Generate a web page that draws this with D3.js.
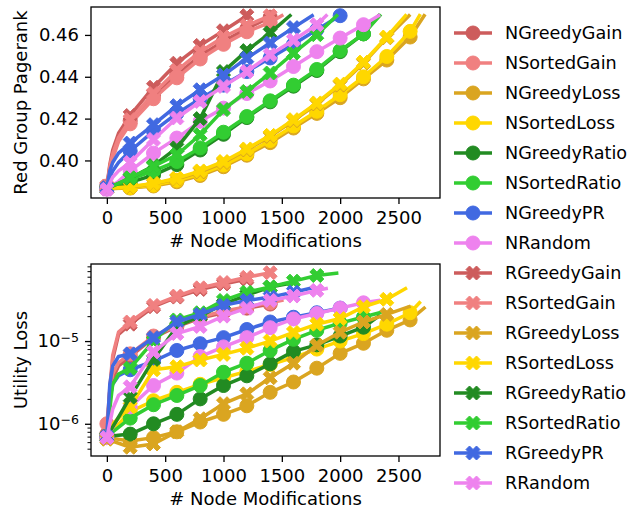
<!DOCTYPE html>
<html>
<head>
<meta charset="utf-8">
<script src="https://cdn.jsdelivr.net/npm/d3@7/dist/d3.min.js"></script>
<style>
  body { margin: 0; background: #fff; }
  text { font-family: "DejaVu Sans", sans-serif; fill: #000; }
</style>
</head>
<body>
<svg id="chart" width="629" height="513"></svg>
<script>
// x positions of the recorded points (markers every 200 modifications)
const steps = [0, 25, 50, 100, 200, 400, 600, 800, 1000, 1200, 1400, 1600, 1800, 2000, 2200, 2400, 2600];

const seriesNames = ["NGreedyGain", "NSortedGain", "NGreedyLoss", "NSortedLoss", "NGreedyRatio", "NSortedRatio", "NGreedyPR", "NRandom",
                     "RGreedyGain", "RSortedGain", "RGreedyLoss", "RSortedLoss", "RGreedyRatio", "RSortedRatio", "RGreedyPR", "RRandom"];
const seriesColors = ["#cd5c5c", "#f08080", "#daa520", "#ffd700", "#228b22", "#32cd32", "#4169e1", "#ee82ee",
                      "#cd5c5c", "#f08080", "#daa520", "#ffd700", "#228b22", "#32cd32", "#4169e1", "#ee82ee"];

// last x of every run, and the pagerank target every run stops at
const runEnd = [1420, 1500, 2720, 2680, 2330, 2340, 2000, 2330, 1200, 1400, 2590, 2560, 1570, 1970, 1760, 1880];
const prTarget = 0.4692;

// red group pagerank
const prNGreedyGain  = [0.3875, 0.396, 0.402, 0.410, 0.419, 0.431, 0.441, 0.450, 0.457, 0.463, 0.4685];
const prNSortedGain  = [0.3878, 0.395, 0.401, 0.409, 0.4175, 0.4295, 0.4395, 0.4485, 0.4555, 0.4615, 0.466];
const prNGreedyLoss  = [0.3865, null, null, null, 0.3868, 0.3878, 0.3898, 0.3928, 0.397, 0.4025, 0.4085, 0.4155, 0.4225, 0.430, 0.439, 0.448, 0.459];
const prNSortedLoss  = [0.3865, null, null, null, 0.387, 0.3882, 0.3905, 0.3935, 0.3978, 0.4032, 0.4095, 0.4165, 0.4235, 0.4314, 0.440, 0.4497, 0.4617];
const prNGreedyRatio = [0.3865, null, null, null, 0.3895, 0.393, 0.398, 0.405, 0.4125, 0.4205, 0.428, 0.4355, 0.443, 0.452, 0.4605];
const prNSortedRatio = [0.3865, null, null, null, 0.391, 0.395, 0.3995, 0.406, 0.4135, 0.421, 0.4285, 0.436, 0.4435, 0.4525, 0.4605];
const prNGreedyPR    = [0.387, 0.392, 0.395, 0.399, 0.4045, 0.414, 0.4225, 0.4295, 0.436, 0.4425, 0.449, 0.4555, 0.4625, 0.4692];
const prNRandom      = [0.3862, null, null, 0.390, 0.395, 0.4035, 0.4107, 0.4187, 0.425, 0.432, 0.438, 0.4449, 0.452, 0.4585, 0.4649];
const prRGreedyGain  = [0.3875, 0.398, 0.405, 0.413, 0.4215, 0.435, 0.4465, 0.455, 0.462, 0.4692];
const prRSortedGain  = [0.3878, 0.397, 0.403, 0.411, 0.4195, 0.432, 0.443, 0.452, 0.459, 0.4645, 0.4692];
const prRGreedyLoss  = [0.3865, null, null, null, 0.3872, 0.3888, 0.3912, 0.3945, 0.399, 0.405, 0.4115, 0.419, 0.427, 0.436, 0.4465, 0.4586];
const prRSortedLoss  = [0.3865, null, null, null, 0.3875, 0.389, 0.3915, 0.395, 0.3995, 0.4055, 0.412, 0.4195, 0.4275, 0.4365, 0.447, 0.459];
const prRGreedyRatio = [0.3865, null, null, null, 0.3915, 0.3975, 0.406, 0.420, 0.4425, 0.4525, 0.461];
const prRSortedRatio = [0.3865, null, null, null, 0.3917, 0.3971, 0.4027, 0.4123, 0.4243, 0.433, 0.4418, 0.4513, 0.4601];
const prRGreedyPR    = [0.387, 0.395, 0.399, 0.4035, 0.4083, 0.4171, 0.4262, 0.4338, 0.4408, 0.4489, 0.4561, 0.4635];
const prRRandom      = [0.3862, null, 0.392, 0.395, 0.399, 0.410, 0.4203, 0.4282, 0.4354, 0.4425, 0.4505, 0.4575, 0.4649];

// utility loss
const lossNGreedyGain  = [7.5e-7, 2e-6, 3.5e-6, 5e-6, 6.5e-6, 1.1e-5, 1.5e-5, 1.9e-5, 2.2e-5, 2.5e-5, 2.8e-5];
const lossNSortedGain  = [1e-6, 2.5e-6, 4e-6, 5.5e-6, 7e-6, 1.15e-5, 1.55e-5, 1.95e-5, 2.3e-5, 2.6e-5, 2.9e-5];
const lossNGreedyLoss  = [6.8e-7, null, null, null, 6.2e-7, 6.8e-7, 8e-7, 1.05e-6, 1.3e-6, 1.65e-6, 2.4e-6, 3.2e-6, 4.7e-6, 7.1e-6, 9.4e-6, 1.35e-5, 1.8e-5];
const lossNSortedLoss  = [7e-7, null, null, null, 1.4e-6, 1.9e-6, 2.4e-6, 3e-6, 3.6e-6, 4.3e-6, 5.2e-6, 6.3e-6, 8e-6, 1e-5, 1.23e-5, 1.6e-5, 2.2e-5];
const lossNGreedyRatio = [7e-7, null, null, null, 7.5e-7, 1e-6, 1.3e-6, 2e-6, 2.9e-6, 3.8e-6, 5.3e-6, 7.5e-6, 9e-6, 1.15e-5, 1.47e-5];
const lossNSortedRatio = [7e-7, null, null, null, 1.17e-6, 1.7e-6, 2.2e-6, 2.9e-6, 4.2e-6, 5.4e-6, 7.7e-6, 1.05e-5, 1.35e-5, 1.65e-5, 1.95e-5];
const lossNGreedyPR    = [7e-7, 2e-6, 3e-6, 3.8e-6, 4.5e-6, 5.7e-6, 7.7e-6, 9.3e-6, 1.1e-5, 1.38e-5, 1.7e-5, 1.94e-5, 2.2e-5, 2.5e-5];
const lossNRandom      = [6.8e-7, null, null, 1.2e-6, 1.6e-6, 2.9e-6, 4.1e-6, 6.5e-6, 8.5e-6, 1.1e-5, 1.45e-5, 1.85e-5, 2.15e-5, 2.5e-5, 2.9e-5];
const lossRGreedyGain  = [7e-7, 2.5e-6, 6e-6, 1.2e-5, 1.6e-5, 2.6e-5, 3.4e-5, 4.2e-5, 4.9e-5, 5.6e-5];
const lossRSortedGain  = [7e-7, 2.7e-6, 6.7e-6, 1.28e-5, 1.7e-5, 2.7e-5, 3.5e-5, 4.4e-5, 5.1e-5, 5.9e-5, 6.7e-5];
const lossRGreedyLoss  = [6.5e-7, null, null, null, 5.2e-7, 5.7e-7, 8e-7, 1.15e-6, 1.75e-6, 2.3e-6, 3.6e-6, 5.4e-6, 8.9e-6, 1.28e-5, 1.7e-5, 2.1e-5];
const lossRSortedLoss  = [7e-7, null, 1e-6, null, 1.6e-6, 4.5e-6, 4.9e-6, 5.9e-6, 6.9e-6, 8.2e-6, 1e-5, 1.27e-5, 1.6e-5, 1.87e-5, 2.6e-5, 3.2e-5];
const lossRGreedyRatio = [7e-7, null, null, 1.2e-6, 2.1e-6, 6e-6, 1.5e-5, 2e-5, 2.8e-5, 3.6e-5, 4.5e-5];
const lossRSortedRatio = [7e-7, 1.5e-6, 3e-6, 4e-6, 4.7e-6, 1e-5, 1.8e-5, 2.2e-5, 3.1e-5, 3.9e-5, 4.5e-5, 5.3e-5, 6.2e-5];
const lossRGreedyPR    = [7e-7, 3e-6, 5e-6, 6.5e-6, 7e-6, 1.1e-5, 1.7e-5, 2.1e-5, 2.7e-5, 3.1e-5, 3.4e-5, 3.9e-5];
const lossRRandom      = [6.8e-7, null, 1.5e-6, 2.2e-6, 2.8e-6, 7.4e-6, 1.23e-5, 1.5e-5, 2e-5, 2.5e-5, 3.1e-5, 3.5e-5, 4.1e-5];
const lossEnd = [2.85e-5, 3.1e-5, 2.5e-5, 2.9e-5, 2e-5, 2.2e-5, null, 3.1e-5, null, null, 2.6e-5, 4.3e-5, 5e-5, 6.6e-5, 4.4e-5, 4.3e-5];

const xTicks = [0, 500, 1000, 1500, 2000, 2500];
const prTicks = [0.40, 0.42, 0.44, 0.46];
const lossTicks = [1e-6, 1e-5];

const prValues = [prNGreedyGain, prNSortedGain, prNGreedyLoss, prNSortedLoss, prNGreedyRatio, prNSortedRatio, prNGreedyPR, prNRandom,
                  prRGreedyGain, prRSortedGain, prRGreedyLoss, prRSortedLoss, prRGreedyRatio, prRSortedRatio, prRGreedyPR, prRRandom];
const lossValues = [lossNGreedyGain, lossNSortedGain, lossNGreedyLoss, lossNSortedLoss, lossNGreedyRatio, lossNSortedRatio, lossNGreedyPR, lossNRandom,
                    lossRGreedyGain, lossRSortedGain, lossRGreedyLoss, lossRSortedLoss, lossRGreedyRatio, lossRSortedRatio, lossRGreedyPR, lossRRandom];

function buildPoints(vals, endX, endVal) {
    const pts = [];
    vals.forEach((v, i) => {
        if (v != null) pts.push({x: steps[i], v: v, mark: steps[i] % 200 === 0});
    });
    if (endVal != null && endX > pts[pts.length - 1].x) pts.push({x: endX, v: endVal, mark: false});
    return pts;
}

const prSeries = prValues.map((vals, i) => buildPoints(vals, runEnd[i], prTarget));
const lossSeries = lossValues.map((vals, i) => buildPoints(vals, runEnd[i], lossEnd[i]));

const svg = d3.select("#chart");
const FS = 18, LEGEND_FS = 17.6;
const plotLeft = 91, plotRight = 440;
const topBox = {top: 7, bottom: 198};
const botBox = {top: 264, bottom: 456};

// matplotlib style 5% margins
function padded(ext, frac) {
    const r = ext[1] - ext[0];
    return [ext[0] - r * frac, ext[1] + r * frac];
}

const allX = prSeries.flat().map(d => d.x);
const x = d3.scaleLinear().domain(padded(d3.extent(allX), 0.05)).range([plotLeft, plotRight]);
const yTop = d3.scaleLinear().domain(padded(d3.extent(prSeries.flat(), d => d.v), 0.05)).range([topBox.bottom, topBox.top]);
const logExt = padded(d3.extent(lossSeries.flat(), d => Math.log10(d.v)), 0.05);
const yBot = d3.scaleLog().domain([Math.pow(10, logExt[0]), Math.pow(10, logExt[1])]).range([botBox.bottom, botBox.top]);

function xMarkerPath(s) {
    const pts = [[-1, -2], [0, -1], [1, -2], [2, -1], [1, 0], [2, 1], [1, 2], [0, 1], [-1, 2], [-2, 1], [-1, 0], [-2, -1]];
    return "M" + pts.map(p => [p[0] * s / 4, -p[1] * s / 4].join(",")).join("L") + "Z";
}

function drawMarker(g, kind, cx, cy, color, size) {
    if (kind === "o") {
        g.append("circle").attr("cx", cx).attr("cy", cy).attr("r", size / 2)
            .attr("fill", color).attr("stroke", color).attr("stroke-width", 1);
    } else {
        g.append("path").attr("d", xMarkerPath(size)).attr("transform", `translate(${cx},${cy})`)
            .attr("fill", color).attr("stroke", color).attr("stroke-width", 1).attr("stroke-linejoin", "round");
    }
}

const MS = 14, LW = 3.5;

function drawPanel(series, y, box, id) {
    svg.append("clipPath").attr("id", id).append("rect")
        .attr("x", plotLeft).attr("y", box.top).attr("width", plotRight - plotLeft).attr("height", box.bottom - box.top);
    const g = svg.append("g").attr("clip-path", `url(#${id})`);
    const line = d3.line().x(d => x(d.x)).y(d => y(d.v));
    series.forEach((pts, i) => {
        const color = seriesColors[i];
        const kind = i < 8 ? "o" : "X";
        g.append("path").datum(pts).attr("d", line).attr("fill", "none")
            .attr("stroke", color).attr("stroke-width", LW).attr("stroke-linejoin", "round").attr("stroke-linecap", "square");
        pts.filter(d => d.mark).forEach(d => drawMarker(g, kind, x(d.x), y(d.v), color, MS));
    });
}

drawPanel(prSeries, yTop, topBox, "clipTop");
drawPanel(lossSeries, yBot, botBox, "clipBot");

function styleAxis(g) {
    g.selectAll("text").style("font-size", FS + "px").attr("fill", "#000");
    g.selectAll("line").attr("stroke", "#000").attr("stroke-width", 1.3);
    g.select(".domain").remove();
}

function frame(box) {
    svg.append("rect").attr("x", plotLeft).attr("y", box.top)
        .attr("width", plotRight - plotLeft).attr("height", box.bottom - box.top)
        .attr("fill", "none").attr("stroke", "#000").attr("stroke-width", 1.3);
}

// top panel axes
svg.append("g").attr("transform", `translate(0,${topBox.bottom})`)
    .call(d3.axisBottom(x).tickValues(xTicks).tickSize(6).tickPadding(7).tickFormat(d3.format("d")))
    .call(styleAxis);
svg.append("g").attr("transform", `translate(${plotLeft},0)`)
    .call(d3.axisLeft(yTop).tickValues(prTicks).tickSize(6).tickPadding(6).tickFormat(d3.format(".2f")))
    .call(styleAxis);
frame(topBox);

// bottom panel axes
svg.append("g").attr("transform", `translate(0,${botBox.bottom})`)
    .call(d3.axisBottom(x).tickValues(xTicks).tickSize(6).tickPadding(7).tickFormat(d3.format("d")))
    .call(styleAxis);

const minorTicks = [];
const dom = yBot.domain();
for (let e = -8; e <= -3; e++) {
    for (let m = 2; m <= 9; m++) {
        const v = m * Math.pow(10, e);
        if (v >= dom[0] && v <= dom[1]) minorTicks.push(v);
    }
}
svg.append("g").attr("transform", `translate(${plotLeft},0)`)
    .call(d3.axisLeft(yBot).tickValues(minorTicks).tickSize(3.5).tickFormat(""))
    .call(g => { g.selectAll("line").attr("stroke", "#000").attr("stroke-width", 1); g.select(".domain").remove(); });
const majorG = svg.append("g").attr("transform", `translate(${plotLeft},0)`)
    .call(d3.axisLeft(yBot).tickValues(lossTicks).tickSize(6).tickPadding(6).tickFormat(""))
    .call(styleAxis);
majorG.selectAll(".tick").each(function(d) {
    const t = d3.select(this).append("text").attr("x", -12).attr("dy", "0.32em")
        .attr("text-anchor", "end").style("font-size", FS + "px");
    t.append("tspan").text("10");
    t.append("tspan").attr("dy", "-0.45em").style("font-size", (FS * 0.7) + "px").text("\u2212" + Math.abs(Math.round(Math.log10(d))));
});
frame(botBox);

// axis titles
const midX = (plotLeft + plotRight) / 2;
svg.append("text").attr("x", midX).attr("y", topBox.bottom + 49).attr("text-anchor", "middle")
    .style("font-size", FS + "px").text("# Node Modifications");
svg.append("text").attr("x", midX).attr("y", botBox.bottom + 49).attr("text-anchor", "middle")
    .style("font-size", FS + "px").text("# Node Modifications");
svg.append("text").attr("transform", `translate(27,${(topBox.top + topBox.bottom) / 2}) rotate(-90)`)
    .attr("text-anchor", "middle").style("font-size", FS + "px").text("Red Group Pagerank");
svg.append("text").attr("transform", `translate(27,${(botBox.top + botBox.bottom) / 2}) rotate(-90)`)
    .attr("text-anchor", "middle").style("font-size", FS + "px").text("Utility Loss");

// legend
const legend = svg.append("g");
seriesNames.forEach((name, i) => {
    const ly = 33 + i * 30;
    const color = seriesColors[i];
    legend.append("line").attr("x1", 454).attr("x2", 492).attr("y1", ly).attr("y2", ly)
        .attr("stroke", color).attr("stroke-width", LW);
    drawMarker(legend, i < 8 ? "o" : "X", 473, ly, color, MS);
    legend.append("text").attr("x", 505).attr("y", ly).attr("dy", "0.36em")
        .style("font-size", LEGEND_FS + "px").text(name);
});
</script>
</body>
</html>
